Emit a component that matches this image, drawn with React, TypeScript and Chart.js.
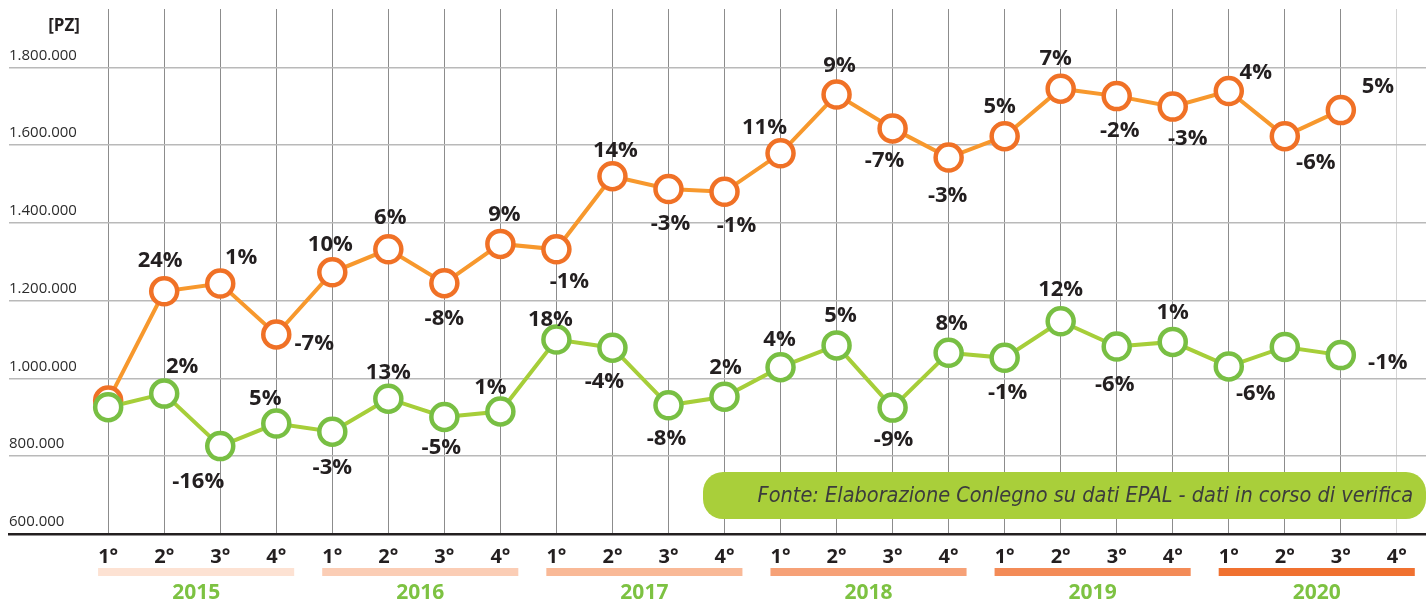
import React, { useEffect, useRef } from 'react';
import { Chart, registerables } from 'chart.js';

Chart.register(...registerables);

// ---------- data ----------
const years = ['2015', '2016', '2017', '2018', '2019', '2020'];
const quarterLabels = ['1°', '2°', '3°', '4°'];

const orangeValues = [
  943000, 1224000, 1244000, 1113000,
  1273000, 1332000, 1245000, 1346000,
  1332000, 1520000, 1487000, 1480000,
  1579000, 1730000, 1643000, 1568000,
  1623000, 1745000, 1726000, 1699000,
  1739000, 1623000, 1690000,
];
const greenValues = [
  926000, 961000, 826000, 884000,
  863000, 948000, 901000, 915000,
  1100000, 1079000, 931000, 953000,
  1029000, 1085000, 925000, 1066000,
  1053000, 1147000, 1082000, 1094000,
  1031000, 1081000, 1060000,
];
const orangeChanges = [
  null, '24%', '1%', '-7%',
  '10%', '6%', '-8%', '9%',
  '-1%', '14%', '-3%', '-1%',
  '11%', '9%', '-7%', '-3%',
  '5%', '7%', '-2%', '-3%',
  '4%', '-6%', '5%',
];
const greenChanges = [
  null, '2%', '-16%', '5%',
  '-3%', '13%', '-5%', '1%',
  '18%', '-4%', '-8%', '2%',
  '4%', '5%', '-9%', '8%',
  '-1%', '12%', '-6%', '1%',
  '-6%', null, '-1%',
];
const yTickValues = [600000, 800000, 1000000, 1200000, 1400000, 1600000, 1800000];
const unitLabel = '[PZ]';
const sourceText = 'Fonte: Elaborazione Conlegno su dati EPAL - dati in corso di verifica';

// ---------- styling (kept apart from data) ----------
const yearBarColors = ['#fde2d3', '#fbcdb5', '#f9b997', '#f6a177', '#f38b57', '#f07130'];
const orangeLabelOffsets = [
  [0, 0], [-4, -32], [21, -27], [38, 8],
  [-2, -29], [2, -33], [0, 34], [4, -31],
  [13, 31], [3, -27], [2, 33], [12, 32],
  [-16, -27], [3, -30], [-8, 31], [-1, 37],
  [-5, -31], [-5, -32], [3, 33], [15, 31],
  [27, -20], [31, 25], [37, -25],
];
const greenLabelOffsets = [
  [0, 0], [18, -28], [-22, 34], [-11, -26],
  [0, 34], [0, -28], [-3, 29], [-10, -25],
  [-6, -21], [-8, 32], [-2, 32], [1, -31],
  [-1, -29], [4, -31], [1, 31], [3, -31],
  [3, 33], [0, -33], [-2, 37], [0, -31],
  [27, 26], [0, 0], [47, 6],
];

const FONT = '"Open Sans", "Noto Sans", sans-serif';
const TEXT_DARK = '#231f20';

const fmt = (v: number) => String(Math.round(v)).replace(/\B(?=(\d{3})+(?!\d))/g, '.');

export default function App() {
  const ref = useRef<HTMLCanvasElement>(null);

  useEffect(() => {
    const canvas = ref.current;
    if (!canvas) return;
    const slotCount = years.length * quarterLabels.length;
    const slots = Array.from({ length: slotCount }, (_, i) => i);

    const extras = {
      id: 'extras',
      afterDatasetsDraw(chart: any) {
        const ctx = chart.ctx;
        ctx.save();
        const size = 22;
        ctx.font = `bold ${size}px ${FONT}`;
        ctx.fillStyle = TEXT_DARK;
        ctx.textAlign = 'center';
        ctx.textBaseline = 'alphabetic';
        const sets = [
          { idx: 0, labels: greenChanges, offs: greenLabelOffsets },
          { idx: 1, labels: orangeChanges, offs: orangeLabelOffsets },
        ];
        sets.forEach((s) => {
          const meta = chart.getDatasetMeta(s.idx);
          meta.data.forEach((pt: any, i: number) => {
            const t = s.labels[i];
            if (!t) return;
            const [dx, dy] = s.offs[i];
            ctx.fillText(t, pt.x + dx, pt.y + dy + size * 0.357);
          });
        });
        ctx.restore();
      },
      afterDraw(chart: any) {
        const ctx = chart.ctx;
        const xs = chart.scales.x;
        const area = chart.chartArea;
        ctx.save();

        // unit label
        ctx.font = `bold 17px ${FONT}`;
        ctx.fillStyle = TEXT_DARK;
        ctx.textAlign = 'right';
        ctx.textBaseline = 'alphabetic';
        ctx.fillText(unitLabel, 80, 31);

        // year bars and labels
        years.forEach((y, i) => {
          const start = i * quarterLabels.length;
          const end = start + quarterLabels.length - 1;
          const x0 = xs.getPixelForValue(start - 0.18);
          const x1 = xs.getPixelForValue(end + 0.32);
          ctx.fillStyle = yearBarColors[i];
          ctx.fillRect(x0, xs.top + 34, x1 - x0, 8);
          ctx.font = `bold 21px ${FONT}`;
          ctx.fillStyle = '#7dc242';
          ctx.textAlign = 'center';
          ctx.fillText(y, (x0 + x1) / 2, xs.top + 65);
        });

        // source box
        const bx0 = 703;
        const bx1 = area.right;
        const by0 = area.bottom - 62;
        const by1 = area.bottom - 15;
        ctx.fillStyle = '#a9cf3a';
        ctx.beginPath();
        ctx.roundRect(bx0, by0, bx1 - bx0, by1 - by0, 20);
        ctx.fill();
        let fs = 20;
        const fam = '"DejaVu Sans Condensed", "Liberation Sans Narrow", "Open Sans", sans-serif';
        ctx.font = `italic ${fs}px ${fam}`;
        const w = ctx.measureText(sourceText).width;
        fs = fs * 656 / w;
        ctx.font = `italic ${fs}px ${fam}`;
        ctx.fillStyle = '#3c3c3c';
        ctx.textAlign = 'right';
        ctx.textBaseline = 'middle';
        ctx.fillText(sourceText, bx1 - 13, (by0 + by1) / 2 + 1);
        ctx.restore();
      },
    };

    const chart = new Chart(canvas, {
      type: 'line',
      data: {
        datasets: [
          {
            label: 'verde',
            data: greenValues.map((v, i) => ({ x: i, y: v })),
            borderColor: '#a6ce39',
            borderWidth: 4,
            pointBorderColor: '#78bf43',
            pointBackgroundColor: '#ffffff',
            pointBorderWidth: 4.5,
            pointRadius: 13,
            tension: 0,
            clip: false,
          },
          {
            label: 'arancio',
            data: orangeValues.map((v, i) => ({ x: i, y: v })),
            borderColor: '#f7982d',
            borderWidth: 4,
            pointBorderColor: '#f07126',
            pointBackgroundColor: '#ffffff',
            pointBorderWidth: 4.5,
            pointRadius: 13,
            tension: 0,
            clip: false,
          },
        ],
      },
      options: {
        animation: false,
        responsive: false,
        events: [],
        layout: { autoPadding: false, padding: { left: 9, top: 8, right: 0, bottom: 0 } },
        plugins: {
          legend: { display: false },
          tooltip: { enabled: false },
        },
        scales: {
          x: {
            type: 'linear',
            min: -1.77,
            max: 23.52,
            afterBuildTicks: (scale: any) => {
              scale.ticks = slots.map((v) => ({ value: v }));
            },
            afterFit: (scale: any) => {
              scale.height = 66;
            },
            ticks: {
              autoSkip: false,
              maxRotation: 0,
              padding: 11,
              color: TEXT_DARK,
              font: { family: FONT, size: 20, weight: 'bold' },
              callback: (v: any) => quarterLabels[Number(v) % quarterLabels.length],
            },
            grid: {
              drawTicks: false,
              lineWidth: 1,
              color: (c: any) => (c.tick && c.tick.value === slotCount - 1 ? '#d4d4d4' : '#8c8c8c'),
            },
            border: { display: true, color: TEXT_DARK, width: 2.5 },
          },
          y: {
            type: 'linear',
            min: 600000,
            max: 1950000,
            afterBuildTicks: (scale: any) => {
              scale.ticks = yTickValues.map((v) => ({ value: v }));
            },
            afterFit: (scale: any) => {
              scale.width = 0;
            },
            ticks: {
              mirror: true,
              padding: 0,
              labelOffset: -12,
              color: '#2b2b2b',
              font: { family: FONT, size: 15 },
              callback: (v: any) => fmt(Number(v)),
            },
            grid: { drawTicks: false, lineWidth: 1.5, color: '#b9b9b9' },
            border: { display: false },
          },
        },
      },
      plugins: [extras],
    } as any);

    return () => chart.destroy();
  }, []);

  return (
    <div style={{ position: 'fixed', left: 0, top: 0, width: 1426, height: 600, background: '#ffffff' }}>
      <canvas ref={ref} width={1426} height={600} style={{ display: 'block', width: 1426, height: 600 }} />
    </div>
  );
}
